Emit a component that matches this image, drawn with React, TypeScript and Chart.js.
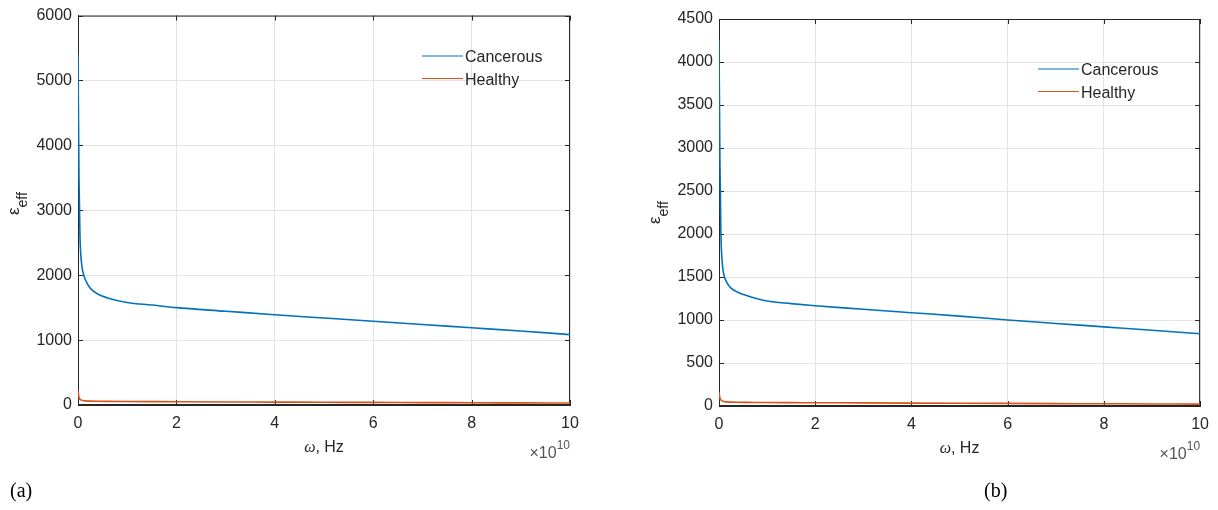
import React, { useEffect, useRef } from "react";
import { Chart, registerables } from "chart.js";

Chart.register(...registerables);

// x values in units of 1e10 Hz
const freqE10 = [0, 0.02, 0.04, 0.07, 0.1, 0.15, 0.25, 0.4, 0.6, 1.0, 1.5, 2, 3, 4, 5, 6, 7, 8, 9, 10];
const cancerousA = [5400, 3500, 2600, 2200, 2050, 1930, 1800, 1710, 1650, 1580, 1540, 1500, 1445, 1390, 1340, 1290, 1240, 1190, 1140, 1085];
const healthyA = [220, 120, 90, 75, 68, 63, 60, 58, 56, 54, 52, 50, 47, 45, 42, 40, 37, 35, 32, 30];
const cancerousB = [4250, 2800, 2000, 1650, 1530, 1450, 1370, 1320, 1280, 1220, 1190, 1165, 1125, 1085, 1045, 1000, 960, 920, 880, 840];
const healthyB = [160, 90, 70, 58, 52, 48, 45, 43, 42, 40, 39, 38, 36, 34, 32, 30, 28, 26, 24, 22];
const xTicks = [0, 2, 4, 6, 8, 10];
const seriesNames = ["Cancerous", "Healthy"];
const BLUE = "#0072BD";
const ORANGE = "#D95319";
const AXIS = "#262626";
const FONT = "'Liberation Sans', Arial, sans-serif";

type PanelProps = {
  left: number;
  cancer: number[];
  healthy: number[];
  yMax: number;
  yStep: number;
  area: { left: number; right: number; top: number; bottom: number };
  legend: { x: number; y: number };
  yTitle: { x: number; y: number };
};

const W = 609;
const H = 510;

function Panel(p: PanelProps) {
  const ref = useRef<HTMLCanvasElement | null>(null);
  useEffect(() => {
    if (!ref.current) return;
    const toPts = (ys: number[]) => freqE10.map((x, i) => ({ x, y: ys[i] }));
    const deco = {
      id: "deco",
      beforeDatasetsDraw(chart: any) {
        const { ctx, chartArea: a, scales } = chart;
        ctx.save();
        ctx.strokeStyle = AXIS;
        ctx.lineWidth = 1;
        ctx.strokeRect(a.left + 0.5, a.top + 0.5, a.right - a.left - 1, a.bottom - a.top - 1);
        const tl = 5;
        ctx.beginPath();
        xTicks.forEach((v) => {
          const px = Math.round(scales.x.getPixelForValue(v)) + 0.5;
          ctx.moveTo(px, a.bottom);
          ctx.lineTo(px, a.bottom - tl);
          ctx.moveTo(px, a.top);
          ctx.lineTo(px, a.top + tl);
        });
        for (let v = 0; v <= p.yMax; v += p.yStep) {
          const py = Math.round(scales.y.getPixelForValue(v)) + 0.5;
          ctx.moveTo(a.left, py);
          ctx.lineTo(a.left + tl, py);
          ctx.moveTo(a.right, py);
          ctx.lineTo(a.right - tl, py);
        }
        ctx.stroke();
        ctx.restore();
      },
      afterDraw(chart: any) {
        const { ctx, chartArea: a } = chart;
        ctx.save();
        // legend
        const colors = [BLUE, ORANGE];
        seriesNames.forEach((n, i) => {
          const y = p.legend.y + i * 22.5;
          ctx.strokeStyle = colors[i];
          ctx.lineWidth = 1.2;
          ctx.beginPath();
          ctx.moveTo(p.legend.x, y);
          ctx.lineTo(p.legend.x + 41, y);
          ctx.stroke();
          ctx.fillStyle = AXIS;
          ctx.font = `16px ${FONT}`;
          ctx.textBaseline = "middle";
          ctx.textAlign = "left";
          ctx.fillText(n, p.legend.x + 43, y + 2);
        });
        // x title
        ctx.fillStyle = AXIS;
        ctx.textBaseline = "alphabetic";
        const om = "ω";
        const rest = ", Hz";
        ctx.font = `italic 16px 'Liberation Serif', serif`;
        const wOm = ctx.measureText(om).width;
        ctx.font = `16px ${FONT}`;
        const wRest = ctx.measureText(rest).width;
        const cx = (a.left + a.right) / 2;
        const x0 = cx - (wOm + wRest) / 2;
        ctx.font = `italic 16px 'Liberation Serif', serif`;
        ctx.fillText(om, x0, a.bottom + 47);
        ctx.font = `16px ${FONT}`;
        ctx.fillText(rest, x0 + wOm, a.bottom + 47);
        // exponent
        ctx.fillStyle = "#555";
        ctx.font = `16px ${FONT}`;
        const base = "×10";
        const wb = ctx.measureText(base).width;
        ctx.font = `12px ${FONT}`;
        const wsup = ctx.measureText("10").width;
        const ex = a.right - wb - wsup;
        ctx.font = `16px ${FONT}`;
        ctx.fillText(base, ex, a.bottom + 53);
        ctx.font = `12px ${FONT}`;
        ctx.fillText("10", ex + wb, a.bottom + 44);
        // y title
        ctx.fillStyle = AXIS;
        ctx.translate(p.yTitle.x, p.yTitle.y);
        ctx.rotate(-Math.PI / 2);
        ctx.font = `17px ${FONT}`;
        ctx.fillText("ε", 0, 0);
        const we = ctx.measureText("ε").width;
        ctx.font = `14px ${FONT}`;
        ctx.fillText("eff", we, 8);
        ctx.restore();
      },
    };
    const chart = new Chart(ref.current, {
      type: "scatter",
      data: {
        datasets: [
          {
            label: seriesNames[0],
            data: toPts(p.cancer),
            showLine: true,
            borderColor: BLUE,
            borderWidth: 1.6,
            pointRadius: 0,
            cubicInterpolationMode: "monotone",
          },
          {
            label: seriesNames[1],
            data: toPts(p.healthy),
            showLine: true,
            borderColor: ORANGE,
            borderWidth: 1.6,
            pointRadius: 0,
            cubicInterpolationMode: "monotone",
          },
        ],
      },
      plugins: [deco],
      options: {
        animation: false,
        responsive: false,
        devicePixelRatio: 1,
        events: [],
        layout: {
          padding: {
            left: 0,
            top: p.area.top,
            right: W - p.area.right,
            bottom: 45,
          },
        },
        plugins: { legend: { display: false }, tooltip: { enabled: false } },
        scales: {
          x: {
            type: "linear",
            min: 0,
            max: 10,
            afterFit: (s: any) => {
              s.height = H - 45 - p.area.bottom;
            },
            afterBuildTicks: (s: any) => {
              s.ticks = xTicks.map((v) => ({ value: v }));
            },
            ticks: {
              color: AXIS,
              font: { family: FONT, size: 16 },
              padding: 9,
              maxRotation: 0,
              callback: (v: any) => String(v),
            },
            grid: { color: "#e3e3e3", drawTicks: false },
            border: { color: AXIS },
          },
          y: {
            type: "linear",
            min: 0,
            max: p.yMax,
            afterFit: (s: any) => {
              s.width = p.area.left;
            },
            ticks: {
              stepSize: p.yStep,
              color: AXIS,
              font: { family: FONT, size: 16 },
              padding: 6,
              callback: (v: any) => String(v),
            },
            grid: { color: "#e3e3e3", drawTicks: false },
            border: { color: AXIS },
          },
        },
      },
    } as any);
    return () => chart.destroy();
  }, []);
  return (
    <canvas
      ref={ref}
      width={W}
      height={H}
      style={{ position: "absolute", left: p.left, top: 0, width: W, height: H }}
    />
  );
}

export default function App() {
  useEffect(() => {
    document.body.style.margin = "0";
    document.body.style.background = "#fff";
  }, []);
  return (
    <div style={{ position: "relative", width: 1218, height: 510, overflow: "hidden", background: "#fff" }}>
      <Panel
        left={0}
        cancer={cancerousA}
        healthy={healthyA}
        yMax={6000}
        yStep={1000}
        area={{ left: 78, right: 570, top: 13, bottom: 405 }}
        legend={{ x: 422, y: 56 }}
        yTitle={{ x: 19, y: 215 }}
      />
      <Panel
        left={609}
        cancer={cancerousB}
        healthy={healthyB}
        yMax={4500}
        yStep={500}
        area={{ left: 110, right: 595, top: 19, bottom: 406 }}
        legend={{ x: 1038 - 609, y: 69 }}
        yTitle={{ x: 660 - 609, y: 224 }}
      />
      <div style={{ position: "absolute", left: 10, top: 479, fontFamily: "'Liberation Serif', 'Times New Roman', serif", fontSize: 20, color: "#000" }}>(a)</div>
      <div style={{ position: "absolute", left: 984, top: 479, fontFamily: "'Liberation Serif', 'Times New Roman', serif", fontSize: 20, color: "#000" }}>(b)</div>
    </div>
  );
}
